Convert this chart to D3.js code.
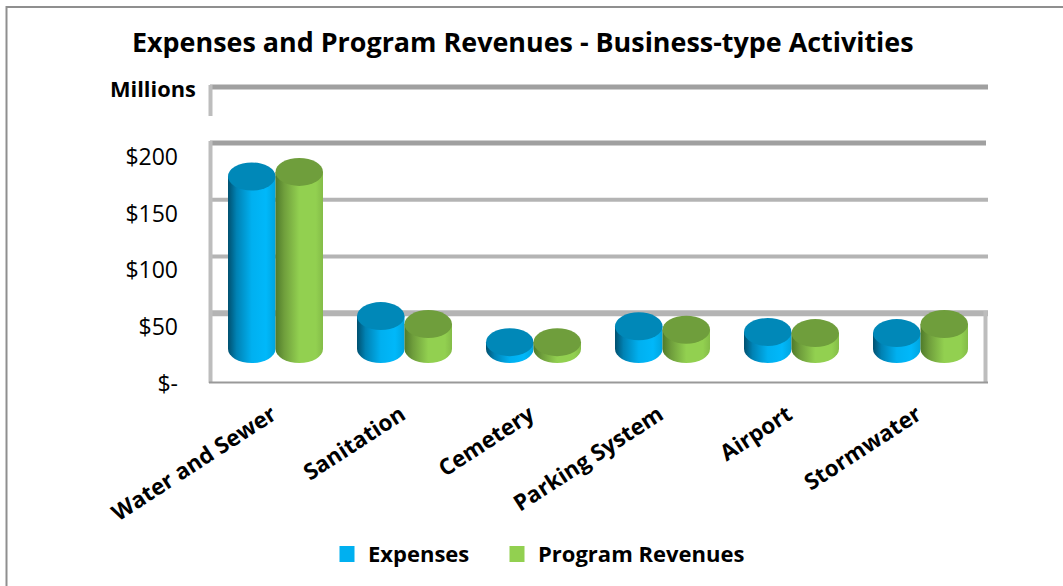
<!doctype html>
<html>
<head>
<script src="https://d3js.org/d3.v7.min.js"></script>
<style>
  body { margin: 0; background: #fff; }
  text { font-family: "Open Sans", sans-serif; fill: #000; }
</style>
</head>
<body>
<svg width="1063" height="586"></svg>
<script>
var categories = ["Water and Sewer", "Sanitation", "Cemetery", "Parking System", "Airport", "Stormwater"];
var seriesNames = ["Expenses", "Program Revenues"];
var expenses = [152, 29, 6, 20, 15, 14];
var revenues = [156, 22, 6, 17, 14, 22];
var tickValues = [0, 50, 100, 150, 200];

var svg = d3.select("svg");

// chart border, open on the right
svg.append("path")
  .attr("d", "M6.5,586V7H1063")
  .attr("fill", "none")
  .attr("stroke", "#8f8f8f")
  .attr("stroke-width", 2);

var x = d3.scaleBand().domain(categories).range([210.5, 984.5]);
var inner = d3.scaleBand().domain(seriesNames).range([0, 95]);
var y = d3.scaleLinear().domain([0, 200]).range([384, 157]);

var wall = 14; // back wall sits this far above the front axis
var baseY = 349; // where zero sits for the cylinders
var ry = 14;
var perUnit = (y(0) - y(200)) / 200;

// gradients
var defs = svg.append("defs");
function grad(id, stops) {
  var g = defs.append("linearGradient").attr("id", id);
  stops.forEach(function (s) {
    g.append("stop").attr("offset", s[0]).attr("stop-color", s[1]);
  });
}
grad("blueSide", [[0, "#00506f"], [0.18, "#0082b4"], [0.5, "#00b0f0"], [0.8, "#00b8fa"], [1, "#00a4de"]]);
grad("greenSide", [[0, "#4f7a2a"], [0.18, "#6f9e3c"], [0.5, "#92d050"], [0.85, "#92d050"], [1, "#84bc48"]]);

// gridlines
var grid = svg.append("g");
grid.selectAll("line.grid")
  .data(tickValues.slice(1))
  .enter().append("line")
  .attr("x1", 210).attr("x2", function (d) { return d == 200 ? 986 : 988; })
  .attr("y1", function (d) { return y(d) - wall; })
  .attr("y2", function (d) { return y(d) - wall; })
  .attr("stroke", function (d) { return d == 200 ? "#a0a0a0" : "#b4b4b4"; })
  .attr("stroke-width", function (d) { return d == 50 ? 6 : d == 200 ? 5 : 4; });

// the top band above $200, cut off from the rest of the wall
grid.append("line")
  .attr("x1", 210).attr("x2", 988).attr("y1", 87).attr("y2", 87)
  .attr("stroke", "#a0a0a0").attr("stroke-width", 5);

// left wall, right wall, floor
grid.append("path")
  .attr("d", "M210.5,85V116M210.5,141V383M985.5,311V383")
  .attr("fill", "none").attr("stroke", "#bdbdbd").attr("stroke-width", 4);
grid.append("line")
  .attr("x1", 209).attr("x2", 988).attr("y1", 382.5).attr("y2", 382.5)
  .attr("stroke", "#999").attr("stroke-width", 2);

// cylinders
function cylinders(values, name, side, top) {
  var g = svg.append("g");
  var rx = inner.bandwidth() / 2;
  categories.forEach(function (c, i) {
    var cx = x(c) + 17.5 + inner(name) + rx;
    var topY = baseY - values[i] * perUnit;
    g.append("path")
      .attr("d", "M" + (cx - rx) + "," + topY + "V" + baseY +
        "A" + rx + "," + ry + " 0 0 0 " + (cx + rx) + "," + baseY +
        "V" + topY + "Z")
      .attr("fill", "url(#" + side + ")");
    g.append("ellipse")
      .attr("cx", cx).attr("cy", topY)
      .attr("rx", rx).attr("ry", ry)
      .attr("fill", top);
  });
}
cylinders(expenses, "Expenses", "blueSide", "#0088b8");
cylinders(revenues, "Program Revenues", "greenSide", "#6f9e3c");

// y axis labels
var yAxis = svg.append("g")
  .attr("transform", "translate(178,0)")
  .call(d3.axisLeft(y).tickValues(tickValues).tickSize(0).tickPadding(0)
    .tickFormat(function (d) { return d == 0 ? "$-" : "$" + d; }));
yAxis.select(".domain").remove();
yAxis.selectAll("text")
  .style("font-family", '"Open Sans", sans-serif')
  .style("font-size", "23px");

svg.append("text")
  .attr("x", 132).attr("y", 52)
  .attr("font-size", "26.9px").attr("font-weight", 700)
  .text("Expenses and Program Revenues - Business-type Activities");

svg.append("text")
  .attr("x", 110).attr("y", 97)
  .attr("font-size", "21.8px").attr("font-weight", 700)
  .text("Millions");

// x labels
var xAxis = svg.append("g")
  .attr("transform", "translate(0,384)")
  .call(d3.axisBottom(x).tickSize(0).tickPadding(0));
xAxis.select(".domain").remove();
xAxis.selectAll("text")
  .attr("text-anchor", "end")
  .attr("dy", 0)
  .attr("transform", "translate(3,34) rotate(-33)")
  .style("font-family", '"Open Sans", sans-serif')
  .style("font-size", "22.4px")
  .style("font-weight", 700);

// legend
var legendX = [339.5, 509.5];
var legendColors = ["#00b0f0", "#92d050"];
var legend = svg.append("g").selectAll("g")
  .data(seriesNames)
  .enter().append("g")
  .attr("transform", function (d, i) { return "translate(" + legendX[i] + ",546)"; });
legend.append("rect")
  .attr("width", 15).attr("height", 16)
  .attr("fill", function (d, i) { return legendColors[i]; });
legend.append("text")
  .attr("x", 28.5).attr("y", 16)
  .attr("font-size", "22px").attr("font-weight", 700)
  .text(function (d) { return d; });
</script>
</body>
</html>
